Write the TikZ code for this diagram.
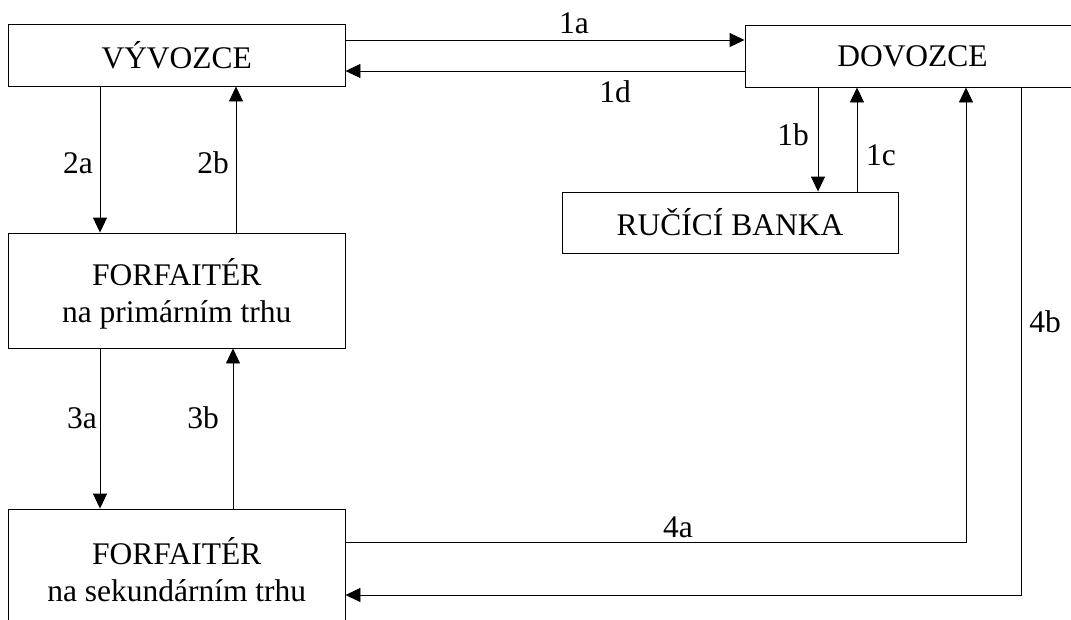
\documentclass[tikz,border=0pt]{standalone}
\usepackage{fontspec}
\setmainfont{Liberation Serif}
\usetikzlibrary{arrows.meta}
\begin{document}
\begin{tikzpicture}[x=1pt,y=-1pt,
  box/.style={draw, line width=0.9pt, inner sep=0pt, align=center,
    font=\fontsize{31.5}{37}\selectfont},
  lbl/.style={inner sep=0pt, font=\fontsize{31.5}{37}\selectfont},
  conn/.style={line width=0.9pt},
  arr/.style={conn, -{Triangle[length=15pt,width=14pt]}}]
\useasboundingbox (0,0) rectangle (1071,619);
\clip (0,0) rectangle (1071,619);
\fill[white] (0,0) rectangle (1071,619);
% boxes
\node[box, minimum width=336.5pt, minimum height=62pt] (vyv) at (176.75,55) {VÝVOZCE};
\node[box, minimum width=335pt, minimum height=62pt] (dov) at (912.5,56) {DOVOZCE};
\node[box, minimum width=336pt, minimum height=61pt] (banka) at (730,222.5) {RUČÍCÍ BANKA};
\node[box, minimum width=336.5pt, minimum height=115pt] (fp) at (176.75,290.5) {};
\node[lbl, align=center] (fpt) at (176.75,293.5) {FORFAITÉR\\na primárním trhu};
\node[box, minimum width=336.5pt, minimum height=115pt] (fs) at (176.75,566.5) {};
\node[lbl, align=center] (fst) at (176.75,569.5) {FORFAITÉR\\na sekundárním trhu};
% helper coordinates
\coordinate (y1a) at (0,40);
\coordinate (y1d) at (0,71);
\coordinate (x2a) at (100,0);
\coordinate (x2b) at (236,0);
\coordinate (x3a) at (100,0);
\coordinate (x3b) at (233,0);
\coordinate (x1b) at (818,0);
\coordinate (x1c) at (857,0);
\coordinate (c4a) at (966,542);
\coordinate (c4b) at (1021,595);
% connectors
\draw[arr] (vyv.east |- y1a) -- (dov.west |- y1a);
\draw[arr] (dov.west |- y1d) -- (vyv.east |- y1d);
\draw[arr] (vyv.south -| x2a) -- (fp.north -| x2a);
\draw[arr] (fp.north -| x2b) -- (vyv.south -| x2b);
\draw[arr] (fp.south -| x3a) -- (fs.north -| x3a);
\draw[arr] (fs.north -| x3b) -- (fp.south -| x3b);
\draw[arr] (dov.south -| x1b) -- (banka.north -| x1b);
\draw[arr] (banka.north -| x1c) -- (dov.south -| x1c);
\draw[arr] (fs.east |- c4a) -- (c4a) -- (dov.south -| c4a);
\draw[arr] (dov.south -| c4b) -- (c4b) -- (fs.east |- c4b);
% labels
\node[lbl] (l1a) at (574,23) {1a};
\node[lbl] (l1d) at (615,92) {1d};
\node[lbl] (l1b) at (793,135) {1b};
\node[lbl] (l1c) at (881,155) {1c};
\node[lbl] (l2a) at (78,163) {2a};
\node[lbl] (l2b) at (213,163) {2b};
\node[lbl] (l3a) at (82,418) {3a};
\node[lbl] (l3b) at (203,418) {3b};
\node[lbl] (l4a) at (678,527) {4a};
\node[lbl] (l4b) at (1045,322) {4b};
\end{tikzpicture}
\end{document}
